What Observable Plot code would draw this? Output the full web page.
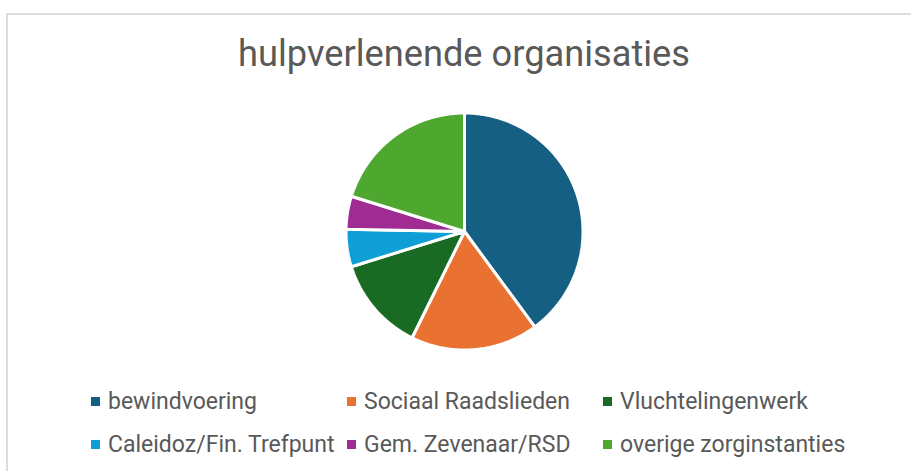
<!DOCTYPE html>
<html>
<head>
<meta charset="utf-8">
<script src="https://cdn.jsdelivr.net/npm/d3@7"></script>
<script src="https://cdn.jsdelivr.net/npm/@observablehq/plot@0.6"></script>
<style>
  html, body { margin: 0; padding: 0; background: #fff; }
  #wrap { position: relative; width: 911px; height: 471px; overflow: hidden; background: #fff; }
  #border { position: absolute; left: 6px; top: 13px; width: 1200px; height: 1200px; border: 2px solid #dcdcdc; box-sizing: border-box; }
  #title { position: absolute; left: 0; width: 928px; text-align: center; color: #595959; font-family: Roboto, sans-serif; line-height: 1; white-space: nowrap; }
  #chart { position: absolute; left: 0; top: 0; }
  #legend { position: absolute; left: 91px; top: 380px; width: 800px; }
  #legend .lg-swatches { font-family: Roboto, sans-serif !important; color: #595959; margin: 0 !important; }
  #legend .lg-swatch { width: 256px; height: 43px; margin-right: 0 !important; white-space: nowrap; }
  #legend .lg-swatch svg { margin-right: 8px !important; }
</style>
</head>
<body>
<div id="wrap">
  <div id="border"></div>
  <div id="title">hulpverlenende organisaties</div>
  <div id="chart"></div>
  <div id="legend"></div>
</div>
<script>
// ---- data ----
const categories = ["bewindvoering", "Sociaal Raadslieden", "Vluchtelingenwerk", "Caleidoz/Fin. Trefpunt", "Gem. Zevenaar/RSD", "overige zorginstanties"];
const values = [39.9, 17.4, 12.9, 5.1, 4.5, 20.2];
const colors = ["#156082", "#E97132", "#196B24", "#0F9ED5", "#A02B93", "#4EA72E"];
const titleText = "hulpverlenende organisaties";

// ---- font fitting helpers ----
const fam = 'Roboto';
const ctx = document.createElement("canvas").getContext("2d");
ctx.font = `100px ${fam}`;
function fitSize(text, target) {
  return 100 * target / ctx.measureText(text).width;
}
const m = ctx.measureText("h");
const asc = (m.fontBoundingBoxAscent || 92.8) / 100;
const desc = (m.fontBoundingBoxDescent || 24.4) / 100;
const titleSize = fitSize(titleText, 452);
const legendSize = fitSize("bewindvoering", 149);

const titleEl = document.getElementById("title");
titleEl.style.fontSize = titleSize + "px";
const baseOff = ((1 - (asc + desc)) / 2 + asc) * titleSize;
titleEl.style.top = (66.5 - baseOff) + "px";

// ---- pie geometry from the values ----
const arcs = d3.pie().sort(null).value(d => d)(values);
const pts = [];
arcs.forEach((a, i) => {
  const name = categories[i];
  pts.push({name, x: 0, y: 0});
  const n = Math.max(2, Math.ceil((a.endAngle - a.startAngle) / (Math.PI / 360)));
  for (let k = 0; k <= n; k++) {
    const t = a.startAngle + (a.endAngle - a.startAngle) * k / n;
    pts.push({name, x: Math.sin(t), y: Math.cos(t)});
  }
  pts.push({name, x: 0, y: 0});
});

const cx = 464, cy = 231, R = 118.5;
const chart = Plot.plot({
  width: 911,
  height: 471,
  margin: 0,
  style: {background: "transparent"},
  x: {domain: [-1, 1], range: [cx - R, cx + R], axis: null},
  y: {domain: [-1, 1], range: [cy + R, cy - R], axis: null},
  color: {domain: categories, range: colors},
  marks: [
    Plot.line(pts, {x: "x", y: "y", z: "name", fill: "name", stroke: "white", strokeWidth: 3, strokeLinejoin: "miter", curve: "linear"})
  ]
});
document.getElementById("chart").appendChild(chart);

const legend = Plot.legend({
  color: {domain: categories, range: colors},
  legend: "swatches",
  swatchSize: 9,
  className: "lg"
});
legend.style.fontSize = legendSize + "px";
document.getElementById("legend").appendChild(legend);
</script>
</body>
</html>
